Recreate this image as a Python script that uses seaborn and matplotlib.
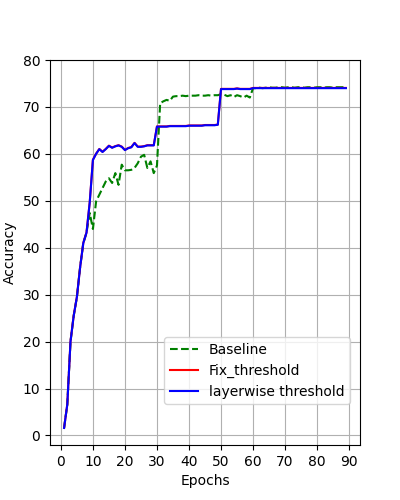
import numpy as np
import pandas as pd
import matplotlib
matplotlib.use("Agg")
import matplotlib.pyplot as plt
import seaborn as sns

# ---------------- data ----------------
epochs = list(range(1, 90))

baseline = [1.6, 6.6, 20.0, 25.5, 29.5, 35.8, 41.0, 43.2, 47.4, 44.0,
            49.9, 51.3, 52.7, 54.1, 54.8, 53.8, 55.9, 53.4, 57.7, 56.5,
            56.5, 56.6, 57.0, 58.0, 59.4, 59.8, 57.0, 58.4, 55.9, 57.5,
            70.8, 71.2, 71.5, 71.3, 72.2, 72.3, 72.3, 72.4, 72.3, 72.4,
            72.4, 72.4, 72.5, 72.4, 72.4, 72.5, 72.4, 72.5, 72.5, 72.7,
            72.6, 72.3, 72.5, 72.1, 72.5, 72.3, 72.0, 72.4, 72.0, 74.0,
            74.0, 74.1, 74.0, 74.1, 74.2, 74.1, 74.1, 74.2, 74.2, 74.1,
            74.2, 74.2, 74.1, 74.2, 74.2, 74.1, 74.2, 74.2, 74.1, 74.2,
            74.2, 74.1, 74.2, 74.2, 74.1, 74.2, 74.2, 74.2, 74.2]

layerwise = [1.6, 6.6, 20.0, 25.5, 29.5, 35.8, 41.0, 43.2, 49.6, 58.7,
             60.0, 61.0, 60.4, 61.0, 61.7, 61.3, 61.6, 61.8, 61.5, 60.8,
             61.2, 61.4, 62.3, 61.5, 61.5, 61.6, 61.8, 61.8, 61.8, 65.8,
             65.8, 65.8, 65.8, 65.9, 65.9, 65.9, 65.9, 65.9, 65.9, 66.0,
             66.0, 66.0, 66.0, 66.0, 66.1, 66.1, 66.1, 66.1, 66.2, 73.8,
             73.8, 73.8, 73.8, 73.8, 73.9, 73.8, 73.8, 73.8, 73.8, 74.0,
             74.0, 74.0, 74.0, 74.0, 74.0, 74.0, 74.0, 74.0, 74.0, 74.0,
             74.0, 74.0, 74.0, 74.0, 74.0, 74.0, 74.0, 74.0, 74.0, 74.0,
             74.0, 74.0, 74.0, 74.0, 74.0, 74.0, 74.0, 74.0, 74.0]

fix_threshold = [v + 0.05 for v in layerwise]

# ---------------- plot ----------------
fig, ax = plt.subplots(figsize=(4, 5), dpi=100)

sns.lineplot(x=epochs, y=baseline, color='green', linestyle='--',
             label='Baseline', ax=ax)
sns.lineplot(x=epochs, y=fix_threshold, color='red',
             label='Fix_threshold', ax=ax)
sns.lineplot(x=epochs, y=layerwise, color='blue',
             label='layerwise threshold', ax=ax)

ax.set_ylim(top=80)
ax.set_xticks(range(0, 91, 10))
ax.set_yticks(range(0, 81, 10))
ax.set_xlabel('Epochs')
ax.set_ylabel('Accuracy')
ax.grid(True)
ax.legend(loc='lower right', bbox_to_anchor=(0.99, 0.088))

plt.savefig('out.png', dpi=100)
